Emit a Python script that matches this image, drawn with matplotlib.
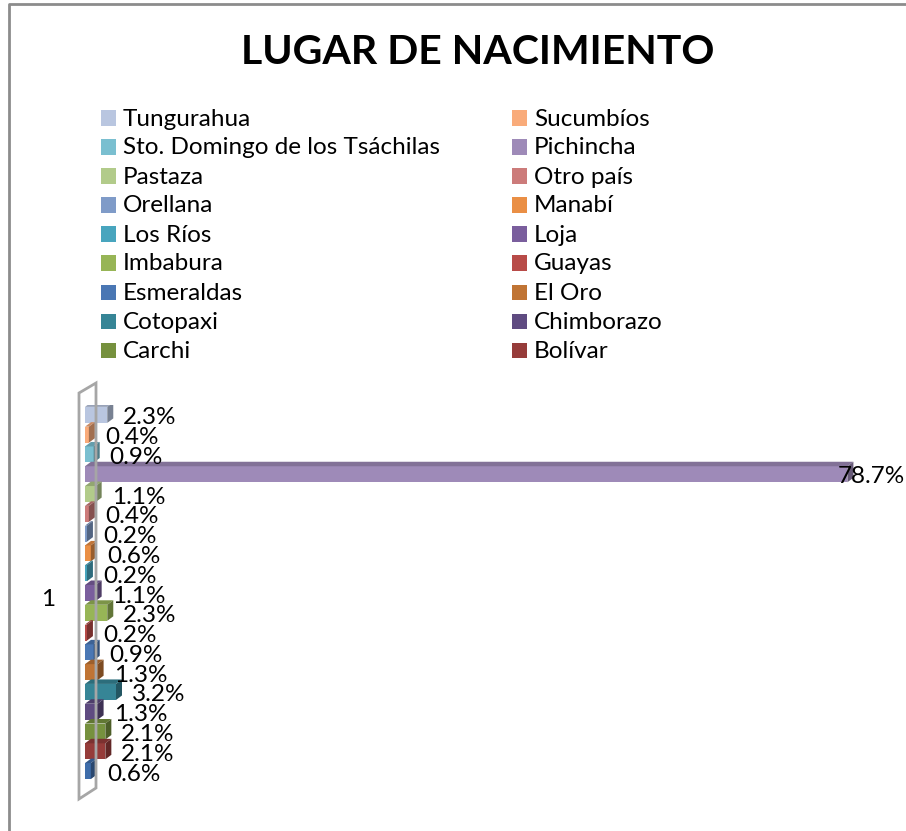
import matplotlib
matplotlib.use("Agg")
import matplotlib.pyplot as plt
from matplotlib.patches import Polygon, Rectangle
from matplotlib.lines import Line2D

plt.rcParams['font.family'] = ['Lato', 'DejaVu Sans']

# provincias, en el orden de las barras (de arriba hacia abajo)
provincias = ["Tungurahua", "Sucumbíos", "Sto. Domingo de los Tsáchilas", "Pichincha",
              "Pastaza", "Otro país", "Orellana", "Manabí", "Los Ríos", "Loja",
              "Imbabura", "Guayas", "Esmeraldas", "El Oro", "Cotopaxi", "Chimborazo",
              "Carchi", "Bolívar", "Azuay"]
porcentajes = [2.3, 0.4, 0.9, 78.7, 1.1, 0.4, 0.2, 0.6, 0.2, 1.1,
               2.3, 0.2, 0.9, 1.3, 3.2, 1.3, 2.1, 2.1, 0.6]
colores = ["#B9C6E0", "#F9AB7A", "#7ABFD0", "#9E8AB8", "#B2CB8A", "#CC7B7A",
           "#7F9BC8", "#EA8F45", "#48A5BE", "#7A5E9D", "#97B556", "#B84B48",
           "#4A77B4", "#C07434", "#368596", "#5F4B81", "#76913E", "#963C3A",
           "#3F6DAA"]
# la leyenda original solo muestra las primeras 18 entradas
n_leyenda = 18

W, H = 906, 831


def fx(x):
    return x / W


def fy(y):
    return 1 - y / H


def oscurecer(c, f):
    r, g, b = matplotlib.colors.to_rgb(c)
    return (r * f, g * f, b * f)


fig = plt.figure(figsize=(W / 100, H / 100), dpi=100)

# marco exterior (cortado a la derecha y abajo)
fig.add_artist(Line2D([fx(9), fx(9), fx(W)], [fy(H), fy(4), fy(4)],
                      color="#8C8C8C", lw=2))

fig.text(fx(478), fy(64), "LUGAR DE NACIMIENTO", ha="center", va="baseline",
         fontsize=29.5, fontweight="bold")

# leyenda en dos columnas
for i, (nombre, col) in enumerate(zip(provincias[:n_leyenda], colores[:n_leyenda])):
    fila, columna = i // 2, i % 2
    yc = 118 + 29.0 * fila
    xm = 101 if columna == 0 else 512
    fig.add_artist(Rectangle((fx(xm), fy(yc + 7.5)), 15 / W, 15 / H,
                             transform=fig.transFigure, color=col, lw=0))
    fig.text(fx(xm + 22), fy(yc + 7.5), nombre, ha="left", va="baseline", fontsize=17.5)

# pared del eje (3D)
fig.add_artist(Polygon([(fx(79), fy(393)), (fx(96), fy(383)), (fx(96), fy(788)),
                        (fx(79), fy(799))], closed=True, fill=False,
                       edgecolor="#A6A6A6", lw=2, transform=fig.transFigure))

fig.text(fx(48), fy(599), "1", ha="center", va="center", fontsize=17.5)

ax = fig.add_axes([fx(85), (H - 781) / H, 775 / W, 376 / H])
xmax = 80
n = len(porcentajes)
ax.set_xlim(0, xmax)
ax.set_ylim(n - 0.5, -0.5)
ax.axis("off")

alto = 0.81
ddx = 6 * xmax / 775
ddy = 4.5 * n / 376
x_borde = (W - 1 - 85) * xmax / 775

for i, (v, c) in enumerate(zip(porcentajes, colores)):
    z = 2 + i
    ax.barh(i, v, height=alto, color=c, zorder=z, lw=0)
    arriba, abajo = i - alto / 2, i + alto / 2
    ax.add_patch(Polygon([(0, arriba), (v, arriba), (v + ddx, arriba - ddy),
                          (ddx, arriba - ddy)], closed=True,
                         color=oscurecer(c, 0.82), lw=0, zorder=z))
    ax.add_patch(Polygon([(v, arriba), (v + ddx, arriba - ddy), (v + ddx, abajo - ddy),
                          (v, abajo)], closed=True,
                         color=oscurecer(c, 0.65), lw=0, zorder=z))
    etiqueta = f"{v}%"
    if v > 50:
        ax.text(x_borde, i + 0.1, etiqueta, ha="right", va="center",
                fontsize=17.5, zorder=50, clip_on=False)
    else:
        ax.annotate(etiqueta, xy=(v, i), xytext=(16, -3), textcoords="offset pixels",
                    ha="left", va="center", fontsize=17.5, zorder=50)

fig.savefig("out.png", dpi=100)
